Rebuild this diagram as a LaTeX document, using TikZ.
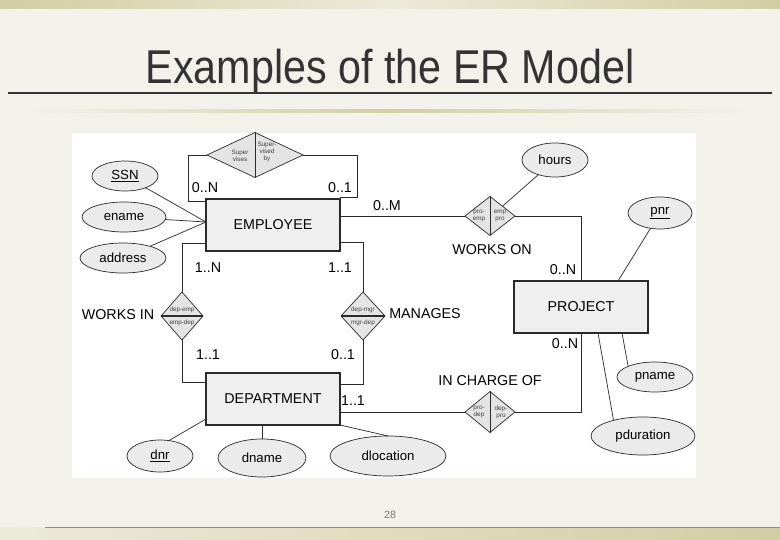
\documentclass[tikz,border=0pt]{standalone}
\usepackage{graphicx}
\usepackage{fontspec}
\setmainfont{Liberation Sans}
\usetikzlibrary{shapes.geometric}

\definecolor{slidebg}{HTML}{F2F1EA}
\definecolor{bandclr}{HTML}{D3CEA2}
\definecolor{bandlight}{HTML}{ECEAD9}
\definecolor{titleclr}{HTML}{333333}
\definecolor{lineclr}{HTML}{2A2A2A}
\definecolor{entfill}{HTML}{EFEFEF}
\definecolor{attfill}{HTML}{EBEBEB}
\definecolor{relfill}{HTML}{E4E4E4}

\tikzset{
  entity/.style={draw=lineclr,fill=entfill,line width=1pt,minimum width=4.02cm,minimum height=1.56cm,inner sep=0pt,outer sep=0pt,font=\fontsize{12.2}{14}\selectfont},
  attr/.style={ellipse,draw=lineclr,fill=attfill,line width=0.6pt,inner sep=0pt,outer sep=0pt,font=\fontsize{11.3}{13}\selectfont},
  rel/.style={diamond,draw=lineclr,fill=relfill,line width=0.6pt,inner sep=0pt,outer sep=0pt},
  card/.style={inner sep=0pt,font=\fontsize{12.2}{14}\selectfont},
  tinytext/.style={inner sep=0pt,align=center,text=black!75,font=\fontsize{5.4}{6}\selectfont},
  conn/.style={draw=lineclr,line width=0.6pt},
}

\begin{document}
\begin{tikzpicture}[x=0.03cm,y=-0.03cm]
\useasboundingbox (0,0) rectangle (780,540);
\fill[slidebg] (0,0) rectangle (780,540);
\shade[left color=bandclr,right color=bandclr,middle color=bandlight] (0,0) rectangle (780,9);
\shade[left color=bandlight,right color=bandclr] (0,527) rectangle (780,540);
\draw[black!45,line width=0.6pt] (45,527) -- (780,527);
\node[anchor=base,text=titleclr,inner sep=0pt,font=\fontsize{40.5}{44}\selectfont] (title) at (390,84) {\scalebox{0.87}[1]{Examples of the ER Model}};
\draw[titleclr,line width=1.6pt] (8,93) -- (772,93);
\shade[left color=slidebg,right color=slidebg,middle color=bandclr] (30,110) rectangle (745,112.5);
\fill[white] (72,133) rectangle (696,478);
\node[text=black!55,inner sep=0pt,font=\fontsize{9}{10}\selectfont] (page) at (390,515) {28};

\node[entity] (emp) at (273,225) {EMPLOYEE};
\node[entity] (dep) at (273,399) {DEPARTMENT};
\node[entity] (proj) at (581,307) {PROJECT};

\node[attr,minimum width=1.98cm,minimum height=0.9cm] (ssn) at (125,176) {\underline{SSN}};
\node[attr,minimum width=2.52cm,minimum height=0.9cm] (ename) at (124,217) {ename};
\node[attr,minimum width=2.58cm,minimum height=0.9cm] (address) at (123,258) {address};
\node[attr,minimum width=1.98cm,minimum height=1.02cm] (hours) at (555,160) {hours};
\node[attr,minimum width=1.92cm,minimum height=0.96cm] (pnr) at (660,213) {\underline{pnr}};
\node[attr,minimum width=2.28cm,minimum height=0.9cm] (pname) at (655,377) {pname};
\node[attr,minimum width=3.12cm,minimum height=1.14cm] (pdur) at (643,436) {pduration};
\node[attr,minimum width=1.98cm,minimum height=0.96cm] (dnr) at (160,456) {\underline{dnr}};
\node[attr,minimum width=2.64cm,minimum height=1.14cm] (dname) at (262,458) {dname};
\node[attr,minimum width=3.48cm,minimum height=1.2cm] (dloc) at (388,456) {dlocation};

\node[rel,minimum width=2.88cm,minimum height=1.35cm] (sup) at (255,155) {};
\draw[lineclr,line width=0.6pt] (sup.north) -- (sup.south);
\node[tinytext] (supl) at (240,156) {Super\\vises};
\node[tinytext] (supr) at (267,152) {Super-\\vised\\by};
\node[rel,minimum width=1.5cm,minimum height=1.17cm] (wo) at (490,216) {};
\draw[lineclr,line width=0.6pt] (wo.north) -- (wo.south);
\node[tinytext] (wol) at (479,216) {pro-\\emp};
\node[tinytext] (wor) at (500,216) {emp\\pro};
\node[rel,minimum width=1.5cm,minimum height=1.23cm] (ic) at (490,412) {};
\draw[lineclr,line width=0.6pt] (ic.north) -- (ic.south);
\node[tinytext] (icl) at (479,412) {pro-\\dep};
\node[tinytext] (icr) at (501,412) {dep-\\pro};
\node[rel,minimum width=1.26cm,minimum height=1.44cm] (win) at (182,316) {};
\draw[lineclr,line width=1.2pt] (win.west) -- (win.east);
\node[tinytext] (winu) at (182,309.5) {dep-emp};
\node[tinytext] (wind) at (182,322.5) {emp-dep};
\node[rel,minimum width=1.32cm,minimum height=1.44cm] (man) at (363,316) {};
\draw[lineclr,line width=1.2pt] (man.west) -- (man.east);
\node[tinytext] (manu) at (363,309.5) {dep-mgr};
\node[tinytext] (mand) at (363,322.5) {mgr-dep};

\coordinate (c1) at (188,201);
\coordinate (c2) at (357,197);
\coordinate (e1) at (206,243);
\coordinate (e2) at (340,242);
\coordinate (d1) at (206,382);
\coordinate (d2) at (340,384);
\coordinate (eatt) at (206,222);
\coordinate (p1) at (618,281);
\coordinate (p2) at (622,333);
\coordinate (p3) at (598,333);
\coordinate (d3) at (206,419);

\draw[conn] (sup.west) -| (c1) -- (c1 -| emp.west);
\draw[conn] (sup.east) -| (c2) -- (c2 -| emp.east);
\draw[conn] (wo.west -| emp.east) -- (wo.west);
\draw[conn] (wo.east) -| (proj.north);
\draw[conn] (e1) -| (win.north);
\draw[conn] (win.south) |- (d1);
\draw[conn] (e2) -| (man.north);
\draw[conn] (man.south) |- (d2);
\draw[conn] (ic.west) -- (ic.west -| dep.east);
\draw[conn] (ic.east) -| (proj.south);
\draw[conn] (ssn) -- (eatt);
\draw[conn] (ename) -- (eatt);
\draw[conn] (address) -- (eatt);
\draw[conn] (hours) -- (wo.north east);
\draw[conn] (pnr) -- (p1);
\draw[conn] (p2) -- (pname.north west);
\draw[conn] (p3) -- (pdur.152);
\draw[conn] (dnr.60) -- (d3);
\draw[conn] (dname.north) -- (dname.north |- dep.south);
\draw[conn] (dep.south east) -- (dloc.north);

\node[card] (l1) at (205,188) {0..N};
\node[card] (l2) at (340,188) {0..1};
\node[card] (l3) at (387,206) {0..M};
\node[card] (l4) at (492,250) {WORKS ON};
\node[card] (l5) at (563,270) {0..N};
\node[card] (l6) at (565,344) {0..N};
\node[card] (l7) at (490,381) {IN CHARGE OF};
\node[card] (l8) at (353,401) {1..1};
\node[card] (l9) at (208,268) {1..N};
\node[card] (l10) at (340,268) {1..1};
\node[card] (l11) at (118,315) {WORKS IN};
\node[card] (l12) at (425,314) {MANAGES};
\node[card] (l13) at (208,355) {1..1};
\node[card] (l14) at (343,355) {0..1};
\end{tikzpicture}
\end{document}
